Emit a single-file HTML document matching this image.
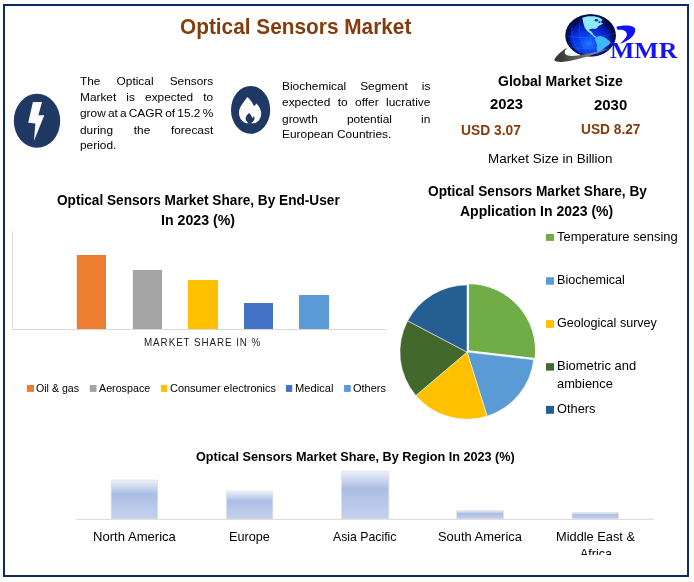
<!DOCTYPE html>
<html lang="en"><head><meta charset="utf-8"><title>Optical Sensors Market</title>
<style>
html,body{margin:0;padding:0;background:#fff;}
body{width:694px;height:582px;position:relative;overflow:hidden;font-family:"Liberation Sans",sans-serif;}
.frame{position:absolute;left:3px;top:4px;width:686px;height:573px;box-sizing:border-box;border:2px solid #0f2a5e;}
.t{position:absolute;white-space:nowrap;line-height:1;transform-origin:0 0;}
.j{position:absolute;transform-origin:0 0;line-height:1;}
.j div{position:absolute;left:0;white-space:nowrap;text-align:justify;text-align-last:justify;}
.j div.l{text-align:left;text-align-last:left;}
.r{position:absolute;}
svg{position:absolute;left:0;top:0;}
</style></head><body>
<div class="frame"></div>
<svg width="694" height="582" viewBox="0 0 694 582">
<defs>
<radialGradient id="gl" cx="0.46" cy="0.68" r="0.60" fx="0.46" fy="0.70">
<stop offset="0" stop-color="#1f7cff"/><stop offset="0.3" stop-color="#0b44f2"/><stop offset="0.66" stop-color="#0522c8"/><stop offset="0.88" stop-color="#031080"/><stop offset="1" stop-color="#01052e"/>
</radialGradient>
<linearGradient id="sw" x1="0" y1="0" x2="1" y2="0"><stop offset="0" stop-color="#2e2e2e"/><stop offset="0.5" stop-color="#6a6a6a"/><stop offset="1" stop-color="#9a9a9a"/></linearGradient>
<linearGradient id="bg" x1="0" y1="0" x2="0" y2="1">
<stop offset="0" stop-color="#eef1fa"/><stop offset="0.18" stop-color="#cbd7ef"/><stop offset="0.36" stop-color="#a9bde3"/><stop offset="0.55" stop-color="#b3c5e7"/><stop offset="1" stop-color="#c3d1ec"/>
</linearGradient>
<filter id="bl" x="-10%" y="-10%" width="120%" height="120%"><feGaussianBlur stdDeviation="0.7"/></filter>
<clipPath id="gc"><ellipse cx="590.6" cy="35.4" rx="25" ry="20.9"/></clipPath>
</defs>
<ellipse cx="37" cy="120.8" rx="23.2" ry="27" fill="#203864"/>
<polygon points="32.9,102 42,102 38.4,115.3 44.3,115.3 33.9,140.9 35.4,123.4 28.2,122.7" fill="#fff"/>
<ellipse cx="250.6" cy="109.9" rx="19.6" ry="23.9" fill="#203864"/>
<path d="M247.3 96.9C245 101 239 106 239 112.5C239 118 242 122 246.5 123.3L254.5 123.3C259 122 261.3 117.5 261.2 113C261 109 258.5 105.5 256.3 103.4C255.8 104.5 255 105.5 253.9 106C252.5 102.5 250 99 247.3 96.9Z" fill="#fff"/>
<path d="M248.9 113C247.5 114.5 245.6 116.5 245.6 118.6C245.6 120.5 246.8 121.6 247.6 122.2L247.6 123.6L251.6 123.6L251.6 122.4C253.3 121.8 254.5 120.3 254.5 118.3C254.5 117.3 254.2 116.5 253.9 116C253.5 116.9 253 117.6 252.2 118C251.8 116 250.5 114.3 248.9 113Z" fill="#203864"/>
<ellipse cx="590.6" cy="35.4" rx="25" ry="20.9" fill="url(#gl)"/>
<g clip-path="url(#gc)">
<path fill-rule="evenodd" d="M560 8h62v56h-62ZM569.8 37.6a20.6 17.6 0 1 0 41.2 0a20.6 17.6 0 1 0 -41.2 0Z" fill="#040a52" opacity="0.8" filter="url(#bl)"/>
<g fill="none" stroke="#6fa8ff" stroke-width="0.35" opacity="0.55"><path d="M566.5 35.8C578.5 38.6 597.1 38.6 615.2 33.0"/><path d="M570.2 47.0C583.2 49.7 599.0 48.8 611.9 43.2"/><path d="M572.1 24.7C571.1 35.8 574.8 47.0 581.3 54.4"/><path d="M580.4 19.1C577.6 32.1 581.3 47.0 589.7 55.8"/><path d="M590.6 30.3C589.7 39.5 592.5 48.8 597.1 54.8"/></g>
<polygon points="582.3,17.7 587.8,16.2 594.3,16.3 599.9,17.7 602.7,20.1 600.8,21.9 603.1,23.8 599.9,25.2 598.0,26.5 597.1,27.9 594.8,28.9 592.0,28.6 589.9,30.3 592.0,32.3 593.6,34.9 596.0,36.9 594.5,37.5 592.6,35.5 590.4,33.6 587.6,31.2 584.9,27.9 583.2,22.8" fill="#8eeaff"/>
<polygon points="595.7,36.9 599.9,35.8 604.5,37.2 608.2,40.0 610.8,42.5 608.4,45.3 605.4,47.1 602.7,49.5 599.4,51.3 597.1,51.6 596.6,48.8 597.1,45.1 595.7,41.4 594.8,38.8" fill="#3db8ff"/>
<ellipse cx="590.6" cy="30.0" rx="1.4" ry="1.1" fill="#0a30d8"/><ellipse cx="594.8" cy="29.9" rx="1.6" ry="1.0" fill="#0a30d8"/>
<ellipse cx="596.4" cy="20.2" rx="1.8" ry="1.3" fill="#0b2cc0"/><ellipse cx="599.4" cy="22.1" rx="1.2" ry="0.9" fill="#0b2cc0"/>
</g>
<ellipse cx="590.6" cy="35.4" rx="25" ry="20.9" fill="none" stroke="#02063a" stroke-width="0.8" opacity="0.7"/>
<path d="M567.0 47.4C561.9 50.7 556.3 55.3 554.3 59.9C555.4 62.7 565.6 62.3 573.9 60.1C587.8 56.7 600.8 52.1 611.0 47.7C600.8 50.7 587.8 54.1 574.8 55.8C565.6 56.4 561.9 53.4 567.0 47.4Z" fill="url(#sw)"/>
<path d="M616.3 26.9C620.8 25.3 631.1 24.6 634.6 27.7C636.3 30.5 634.6 34.9 630.4 38.4C627.0 41.1 622.9 42.8 620.0 43.6C623.6 40.8 626.9 37.0 626.9 34.6C626.9 31.2 622.9 29.1 617.7 30.0Z" fill="#1212f2"/>
<path d="M12.5 231V329.5H386.7" fill="none" stroke="#d9d9d9" stroke-width="1"/>
<rect x="76.8" y="255" width="29.2" height="74" fill="#ed7d31"/>
<rect x="132.8" y="270" width="29.2" height="59" fill="#a5a5a5"/>
<rect x="187.9" y="280" width="30.1" height="49" fill="#ffc000"/>
<rect x="244" y="303" width="29.0" height="26" fill="#4472c4"/>
<rect x="299" y="295" width="30.0" height="34" fill="#5b9bd5"/>
<rect x="26.9" y="385" width="7.1" height="6.9" fill="#ed7d31"/>
<rect x="89.8" y="385" width="6.7" height="6.9" fill="#a5a5a5"/>
<rect x="160.9" y="385" width="6.2" height="6.9" fill="#ffc000"/>
<rect x="285.9" y="385" width="6.3" height="6.9" fill="#4472c4"/>
<rect x="344.1" y="385" width="6.6" height="6.9" fill="#5b9bd5"/>
<path d="M468.49 350.77L468.49 283.67A67.1 67.1 0 0 1 535.15 358.48Z" fill="#70ad47" stroke="#fff" stroke-width="0.9" stroke-linejoin="round"/>
<path d="M467.00 352.10L533.66 359.81A67.1 67.1 0 0 1 487.07 416.13Z" fill="#5b9bd5" stroke="#fff" stroke-width="0.5" stroke-linejoin="round"/>
<path d="M467.00 352.10L487.07 416.13A67.1 67.1 0 0 1 415.82 395.50Z" fill="#ffc000" stroke="#fff" stroke-width="0.5" stroke-linejoin="round"/>
<path d="M467.00 352.10L415.82 395.50A67.1 67.1 0 0 1 407.64 320.81Z" fill="#43682b" stroke="#fff" stroke-width="0.5" stroke-linejoin="round"/>
<path d="M467.00 352.10L407.64 320.81A67.1 67.1 0 0 1 467.00 285.00Z" fill="#255e91" stroke="#fff" stroke-width="0.5" stroke-linejoin="round"/>
<rect x="546" y="234" width="8" height="6.9" fill="#70ad47"/>
<rect x="546" y="277.2" width="8" height="7.5" fill="#5b9bd5"/>
<rect x="546" y="320.1" width="8" height="7.7" fill="#ffc000"/>
<rect x="546" y="363.2" width="8" height="7.4" fill="#43682b"/>
<rect x="546" y="405.9" width="8" height="7.9" fill="#255e91"/>
<path d="M76.4 519.4H653.8" stroke="#d9d9d9" stroke-width="1" fill="none"/>
<rect x="111.1" y="480.1" width="46.7" height="38.9" fill="url(#bg)" stroke="#e3e3e3" stroke-width="0.8"/>
<rect x="226.3" y="491.1" width="46.6" height="27.9" fill="url(#bg)" stroke="#e3e3e3" stroke-width="0.8"/>
<rect x="341.4" y="471.1" width="47.5" height="47.9" fill="url(#bg)" stroke="#e3e3e3" stroke-width="0.8"/>
<rect x="456.7" y="510.6" width="46.9" height="8.4" fill="url(#bg)" stroke="#e3e3e3" stroke-width="0.8"/>
<rect x="572.1" y="512.5" width="46.5" height="6.5" fill="url(#bg)" stroke="#e3e3e3" stroke-width="0.8"/>
</svg>
<span class="t" style="left:179.6px;top:16.43px;font-size:22.4px;font-weight:700;color:#843c0c;transform:scaleX(0.9297)">Optical Sensors Market</span>
<span class="t" style="left:497.5px;top:73.62px;font-size:14.5px;font-weight:700;transform:scaleX(0.9679)">Global Market Size</span>
<span class="t" style="left:490.2px;top:97.02px;font-size:14.5px;font-weight:700;transform:scaleX(1.0197)">2023</span>
<span class="t" style="left:594.3px;top:98.22px;font-size:14.5px;font-weight:700;transform:scaleX(1.0290)">2030</span>
<span class="t" style="left:460.8px;top:123.22px;font-size:14.5px;font-weight:700;color:#843c0c;transform:scaleX(0.9527)">USD 3.07</span>
<span class="t" style="left:581.2px;top:122.42px;font-size:14.5px;font-weight:700;color:#843c0c;transform:scaleX(0.9463)">USD 8.27</span>
<span class="t" style="left:487.8px;top:151.74px;font-size:13.3px;transform:scaleX(1.0087)">Market Size in Billion</span>
<span class="t" style="left:56.9px;top:192.52px;font-size:14.5px;font-weight:700;transform:scaleX(0.9405)">Optical Sensors Market Share, By End-User</span>
<span class="t" style="left:160.9px;top:213.02px;font-size:14.5px;font-weight:700;transform:scaleX(0.9769)">In 2023 (%)</span>
<span class="t" style="left:144.2px;top:337.14px;font-size:10.7px;color:#1c1c1c;letter-spacing:1.0px;transform:scaleX(0.9211)">MARKET SHARE IN %</span>
<span class="t" style="left:36.2px;top:383.33px;font-size:11.3px;transform:scaleX(0.9401)">Oil &amp; gas</span>
<span class="t" style="left:98.7px;top:383.33px;font-size:11.3px;transform:scaleX(0.9479)">Aerospace</span>
<span class="t" style="left:169.6px;top:383.33px;font-size:11.3px;transform:scaleX(0.9703)">Consumer electronics</span>
<span class="t" style="left:294.8px;top:383.33px;font-size:11.3px;transform:scaleX(0.9862)">Medical</span>
<span class="t" style="left:353.0px;top:383.33px;font-size:11.3px;transform:scaleX(0.9733)">Others</span>
<span class="t" style="left:428.0px;top:183.72px;font-size:14.5px;font-weight:700;transform:scaleX(0.9432)">Optical Sensors Market Share, By</span>
<span class="t" style="left:460.3px;top:204.12px;font-size:14.5px;font-weight:700;transform:scaleX(0.9651)">Application In 2023 (%)</span>
<span class="t" style="left:557.1px;top:230.11px;font-size:13.1px;transform:scaleX(0.9871)">Temperature sensing</span>
<span class="t" style="left:557.1px;top:272.91px;font-size:13.1px;transform:scaleX(0.9618)">Biochemical</span>
<span class="t" style="left:557.1px;top:315.71px;font-size:13.1px;transform:scaleX(0.9599)">Geological survey</span>
<span class="t" style="left:557.1px;top:358.51px;font-size:13.1px;transform:scaleX(0.9892)">Biometric and</span>
<span class="t" style="left:557.1px;top:377.11px;font-size:13.1px;transform:scaleX(0.9827)">ambience</span>
<span class="t" style="left:557.1px;top:402.21px;font-size:13.1px;transform:scaleX(0.9797)">Others</span>
<span class="t" style="left:196.3px;top:449.57px;font-size:13.5px;font-weight:700;transform:scaleX(0.9380)">Optical Sensors Market Share, By Region In 2023 (%)</span>
<span class="t" style="left:92.5px;top:529.91px;font-size:13.1px;transform:scaleX(0.9992)">North America</span>
<span class="t" style="left:228.9px;top:529.91px;font-size:13.1px;transform:scaleX(0.9684)">Europe</span>
<span class="t" style="left:333.2px;top:529.91px;font-size:13.1px;transform:scaleX(0.9367)">Asia Pacific</span>
<span class="t" style="left:438.1px;top:529.91px;font-size:13.1px;transform:scaleX(0.9852)">South America</span>
<span class="t" style="left:556.1px;top:529.91px;font-size:13.1px;transform:scaleX(0.9779)">Middle East &amp;</span>
<span class="t" style="left:610.4px;top:39.53px;font-size:22.3px;font-weight:700;color:#1414f0;font-family:'Liberation Serif', serif;transform:scaleX(1.1563)">MMR</span>
<div class="j" style="left:80.3px;top:74.79px;width:131.23px;font-size:11.7px;transform:scaleX(1.0150)"><div style="top:0.00px;width:131.23px;">The Optical Sensors</div><div style="top:16.00px;width:131.23px;">Market is expected to</div><div style="top:32.70px;width:131.23px;word-spacing:-1.25px;">grow at a CAGR of 15.2 %</div><div style="top:48.80px;width:131.23px;">during the forecast</div><div class="l" style="top:64.30px;width:131.23px;">period.</div></div>
<div class="j" style="left:281.9px;top:80.09px;width:145.49px;font-size:11.7px;transform:scaleX(1.0200)"><div style="top:0.00px;width:145.49px;">Biochemical Segment is</div><div style="top:15.90px;width:145.49px;">expected to offer lucrative</div><div style="top:32.70px;width:145.49px;">growth potential in</div><div class="l" style="top:47.70px;width:145.49px;">European Countries.</div></div>
<div style="position:absolute;left:570px;top:545px;width:60px;height:10.4px;overflow:hidden"><span class="t" style="left:10.4px;top:2.4px;font-size:13.1px;transform:scaleX(0.95)">Africa</span></div>
</body></html>
